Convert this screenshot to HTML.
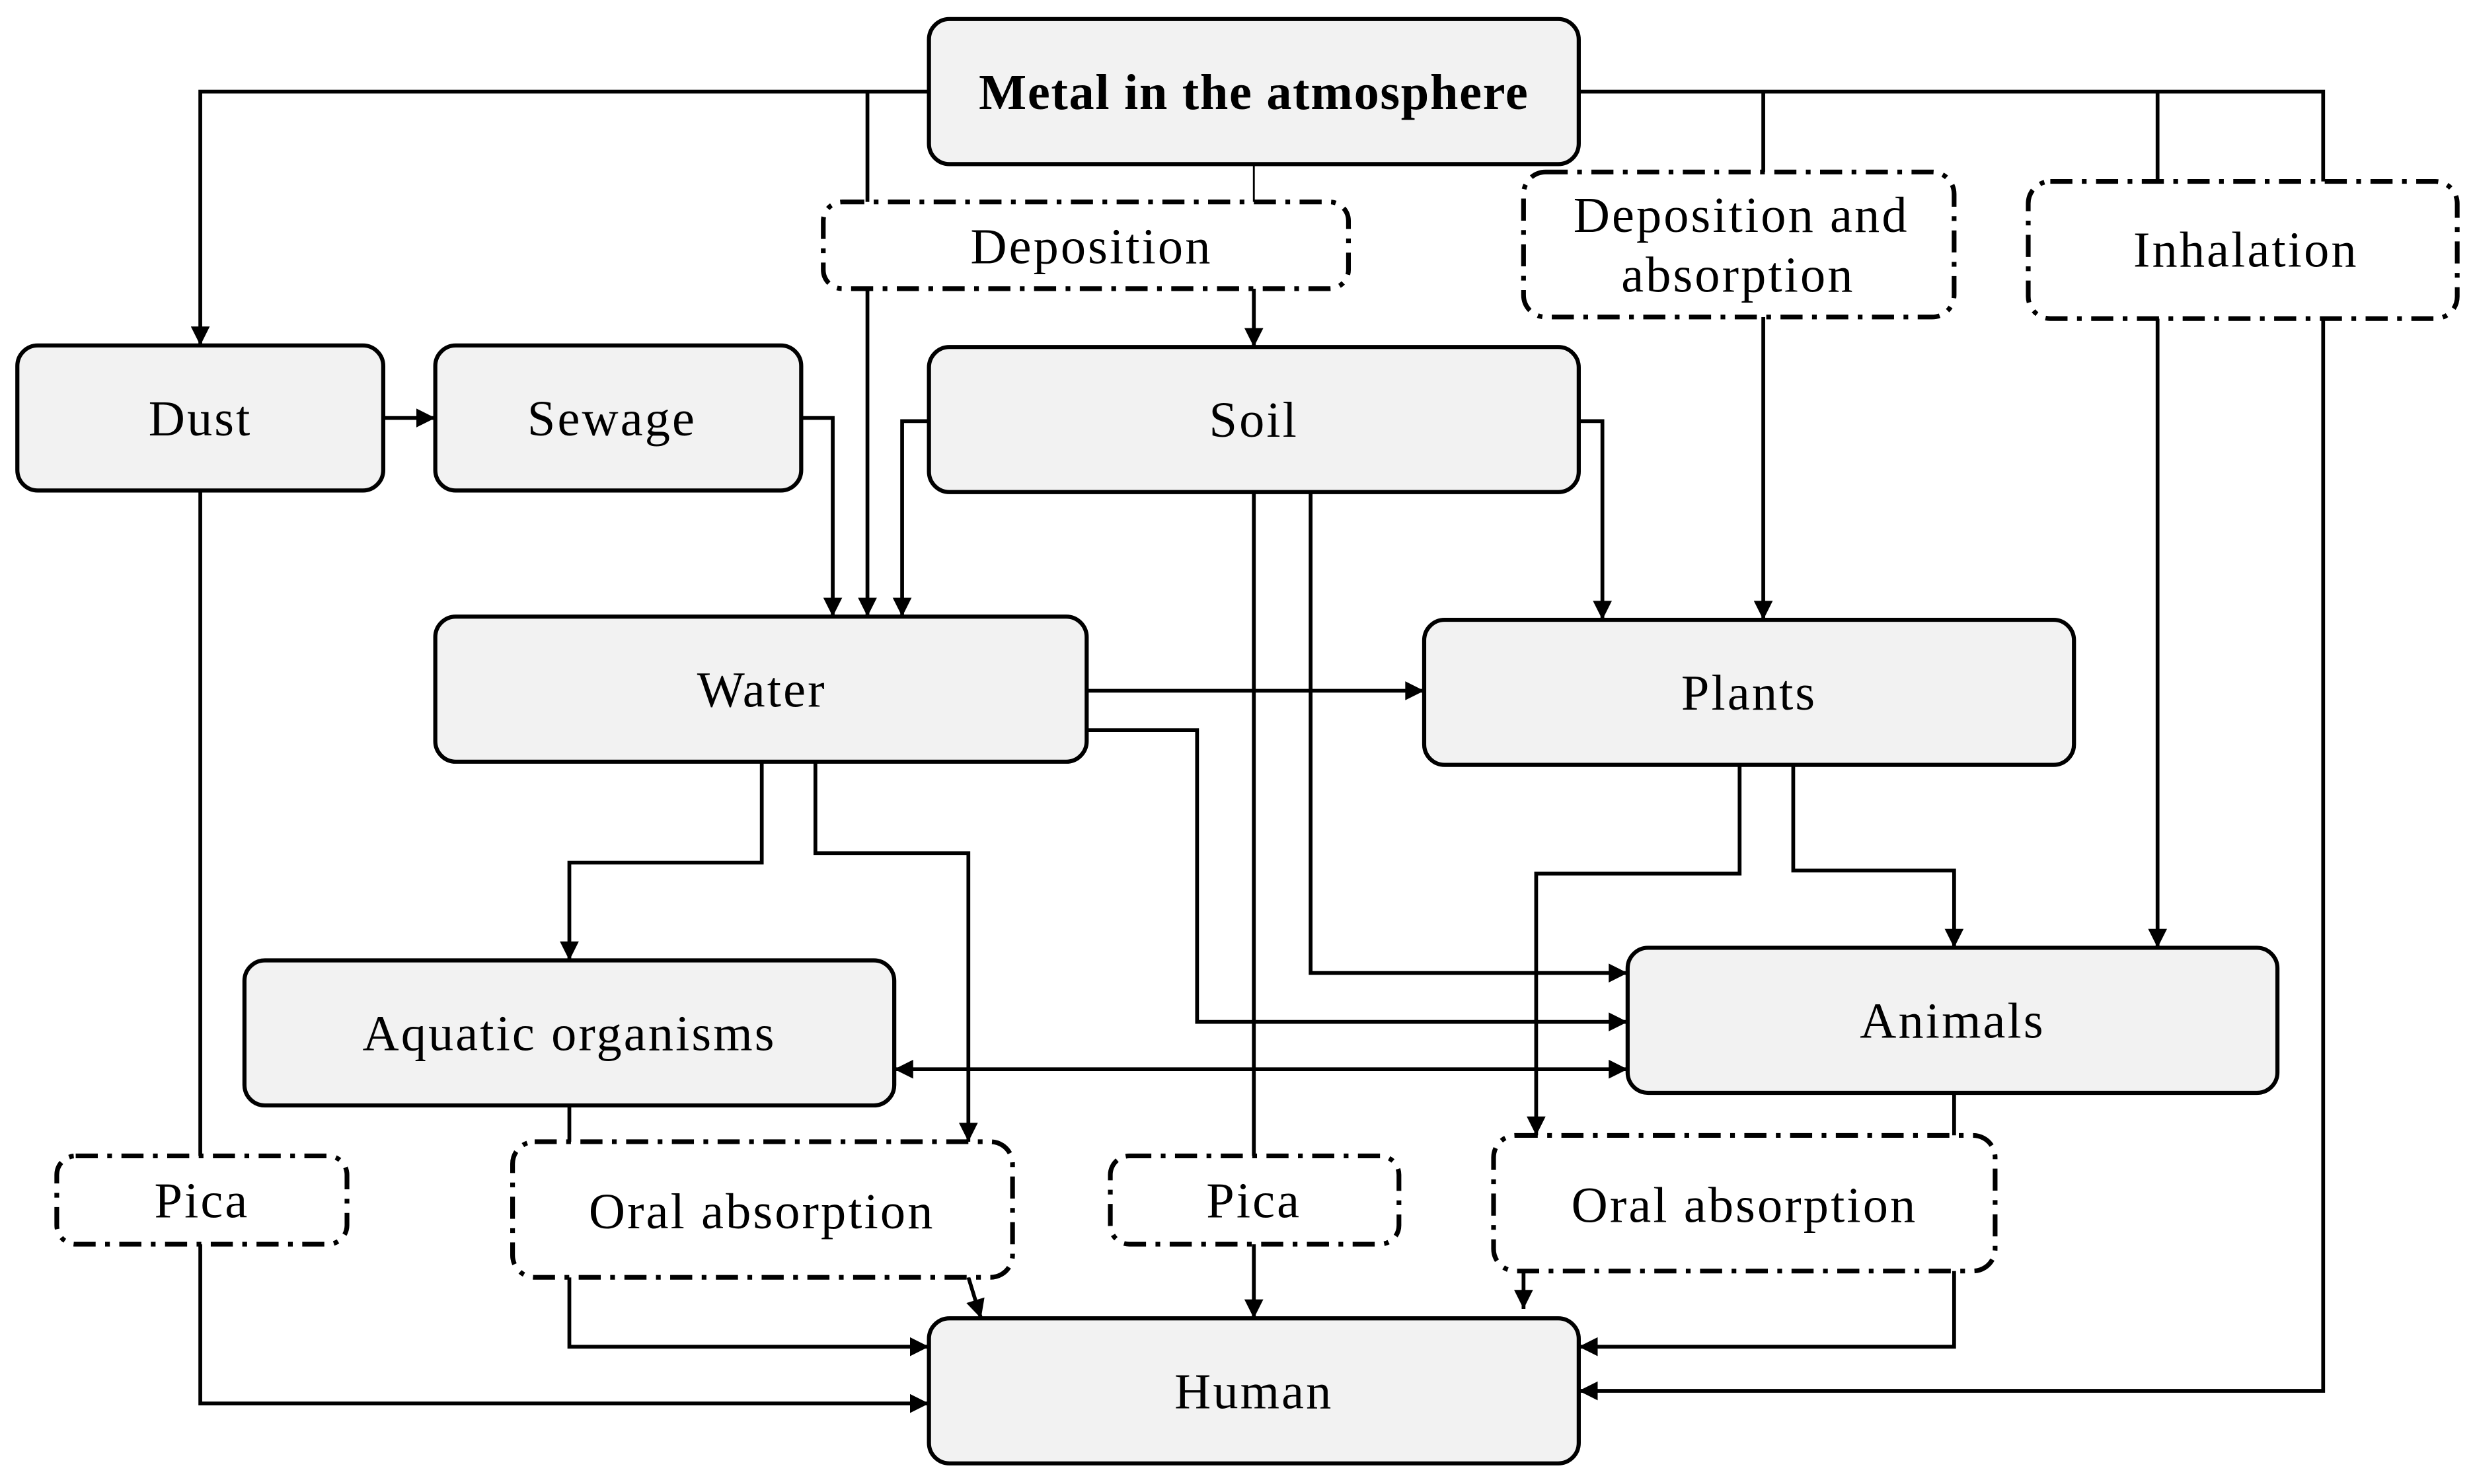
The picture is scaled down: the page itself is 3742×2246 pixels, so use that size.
<!DOCTYPE html>
<html><head><meta charset="utf-8"><style>html,body{margin:0;padding:0;background:#fff}svg{display:block}</style></head>
<body>
<svg width="3742" height="2246" viewBox="0 0 1568 941" xmlns="http://www.w3.org/2000/svg">
<defs>
<marker id="b" viewBox="0 0 10 10" refX="10" refY="5" markerWidth="14" markerHeight="12" orient="auto-start-reverse" markerUnits="userSpaceOnUse"><path d="M0,0 L10,5 L0,10 z" fill="#000"/></marker>
</defs>
<g fill="none" stroke="#000" stroke-width="2.4">
<path d="M589,58 H127 V219" marker-end="url(#b)"/>
<path d="M550,58 V391" marker-end="url(#b)"/>
<path d="M795,104 V128" stroke-width="1.2"/>
<path d="M795,183 V220" marker-end="url(#b)"/>
<path d="M1001,58 H1473 V882 H1001" marker-end="url(#b)"/>
<path d="M1118,58 V109"/>
<path d="M1118,201 V393" marker-end="url(#b)"/>
<path d="M1368,58 V115"/>
<path d="M1368,202 V601" marker-end="url(#b)"/>
<path d="M243,265 H276" marker-end="url(#b)"/>
<path d="M508,265 H528 V391" marker-end="url(#b)"/>
<path d="M589,267 H572 V391" marker-end="url(#b)"/>
<path d="M1001,267 H1016 V393" marker-end="url(#b)"/>
<path d="M795,312 V733"/>
<path d="M795,789 V836" marker-end="url(#b)"/>
<path d="M831,312 V617 H1032" marker-end="url(#b)"/>
<path d="M127,311 V733"/>
<path d="M127,789 V890 H589" marker-end="url(#b)"/>
<path d="M689,438 H903" marker-end="url(#b)"/>
<path d="M689,463 H759 V648 H1032" marker-end="url(#b)"/>
<path d="M483,483 V547 H361 V609" marker-end="url(#b)"/>
<path d="M517,483 V541 H614 V724" marker-end="url(#b)"/>
<path d="M567,678 H1032" marker-start="url(#b)" marker-end="url(#b)"/>
<path d="M361,701 V724"/>
<path d="M361,810 V854 H589" marker-end="url(#b)"/>
<path d="M614,810 L622,836" marker-end="url(#b)"/>
<path d="M1103,485 V554 H974 V720" marker-end="url(#b)"/>
<path d="M1137,485 V552 H1239 V601" marker-end="url(#b)"/>
<path d="M1239,693 V720"/>
<path d="M1239,806 V854 H1001" marker-end="url(#b)"/>
<path d="M966,806 V830" marker-end="url(#b)"/>
</g>
<g fill="#f2f2f2" stroke="#000" stroke-width="2.6">
<rect x="589" y="12" width="412" height="92" rx="13"/>
<rect x="11" y="219" width="232" height="92" rx="13"/>
<rect x="276" y="219" width="232" height="92" rx="13"/>
<rect x="589" y="220" width="412" height="92" rx="13"/>
<rect x="276" y="391" width="413" height="92" rx="13"/>
<rect x="903" y="393" width="412" height="92" rx="13"/>
<rect x="155" y="609" width="412" height="92" rx="13"/>
<rect x="1032" y="601" width="412" height="92" rx="13"/>
<rect x="589" y="836" width="412" height="92" rx="13"/>
</g>
<g fill="#fff" stroke="#000" stroke-width="3" stroke-dasharray="14 6 3 6">
<rect x="522" y="128" width="333" height="55" rx="12"/>
<rect x="966" y="109" width="273" height="92" rx="14"/>
<rect x="1286" y="115" width="272" height="87" rx="14"/>
<rect x="36" y="733" width="184" height="56" rx="12"/>
<rect x="325" y="724" width="317" height="86" rx="14"/>
<rect x="704" y="733" width="183" height="56" rx="12"/>
<rect x="947" y="720" width="318" height="86" rx="14"/>
</g>
<g font-family="'Liberation Serif',serif" font-size="32" letter-spacing="1.3" text-anchor="middle" fill="#000">
<text x="795" y="69" font-weight="bold" letter-spacing="0.7">Metal in the atmosphere</text>
<text x="692" y="167">Deposition</text>
<text x="1104" y="147">Deposition and</text>
<text x="1102" y="185">absorption</text>
<text x="1424" y="169">Inhalation</text>
<text x="127" y="276">Dust</text>
<text x="388" y="276">Sewage</text>
<text x="795" y="277">Soil</text>
<text x="483" y="448">Water</text>
<text x="1109" y="450">Plants</text>
<text x="361" y="666">Aquatic organisms</text>
<text x="1238" y="658">Animals</text>
<text x="128" y="772">Pica</text>
<text x="483" y="779">Oral absorption</text>
<text x="795" y="772">Pica</text>
<text x="1106" y="775">Oral absorption</text>
<text x="795" y="893">Human</text>
</g>
</svg>
</body></html>
